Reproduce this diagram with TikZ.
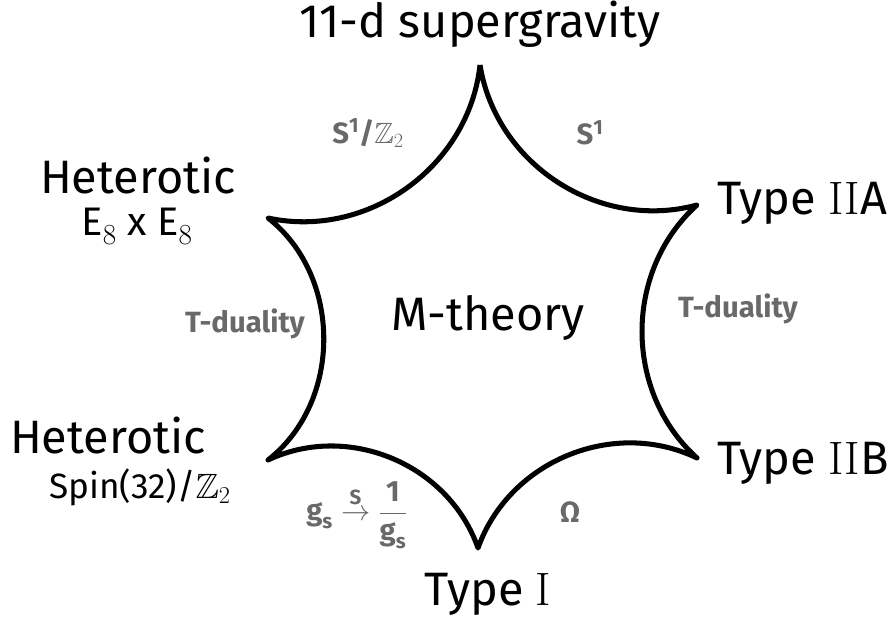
\documentclass[tikz,border=0pt]{standalone}
\usepackage{amsmath,amssymb}
\usepackage{fontspec}
\setsansfont{Fira Sans}
\definecolor{limitgray}{RGB}{105,105,105}
\begin{document}
\begin{tikzpicture}[x=0.03cm, y=-0.03cm,
  theory/.style={font=\sffamily\fontsize{40}{46}\selectfont},
  subtheory/.style={font=\sffamily\fontsize{34}{40}\selectfont},
  limit/.style={text=limitgray, font=\sffamily\bfseries\fontsize{25}{30}\selectfont}]
  \useasboundingbox (0,0) rectangle (890,628);
  % 6つの極限 (星形の尖点), 座標は元画像のピクセル
  \coordinate (top) at (480,65);
  \coordinate (ur) at (697,205);
  \coordinate (lr) at (697,458);
  \coordinate (bot) at (478,548);
  \coordinate (ll) at (268,460);
  \coordinate (ul) at (268,218);
  \draw[line width=4.3pt, line join=round]
    (top) to[bend right=48] (ur) to[bend right=48] (lr) to[bend right=48] (bot)
    to[bend right=48] (ll) to[bend right=52] (ul) to[bend right=48] (top);
  \node[theory] (mth) at (488,318) {M-theory};
  \node[theory] (sugra) at (480,24) {11-d supergravity};
  \node[theory, anchor=west] (iia) at (713,203) {Type \textrm{II}A};
  \node[theory, anchor=west] (iib) at (713,463) {Type \textrm{II}B};
  \node[theory] (ti) at (488,594) {Type \textrm{I}};
  \node[theory] (hete) at (138,176) {Heterotic};
  \node[subtheory] (ee) at (137,226) {E$_8$ x E$_8$};
  \node[theory] (heto) at (108,436) {Heterotic};
  \node[subtheory, font=\sffamily\fontsize{30}{36}\selectfont] (so) at (140,487)
    {Spin(32)/$\mathbb{Z}_2$};
  % 矢印のラベル (灰色)
  \node[limit] at (368,133) {S\textsuperscript{1}/$\mathbb{Z}_2$};
  \node[limit] at (590,133) {S\textsuperscript{1}};
  \node[limit] at (245,324) {T-duality};
  \node[limit] at (738,309) {T-duality};
  \node[limit] at (357,515)
    {$\text{g}_{\text{s}} \overset{\text{S}}{\to} \dfrac{\text{1}}{\text{g}_{\text{s}}}$};
  \node[limit] at (570,512) {Ω};
\end{tikzpicture}
\end{document}
